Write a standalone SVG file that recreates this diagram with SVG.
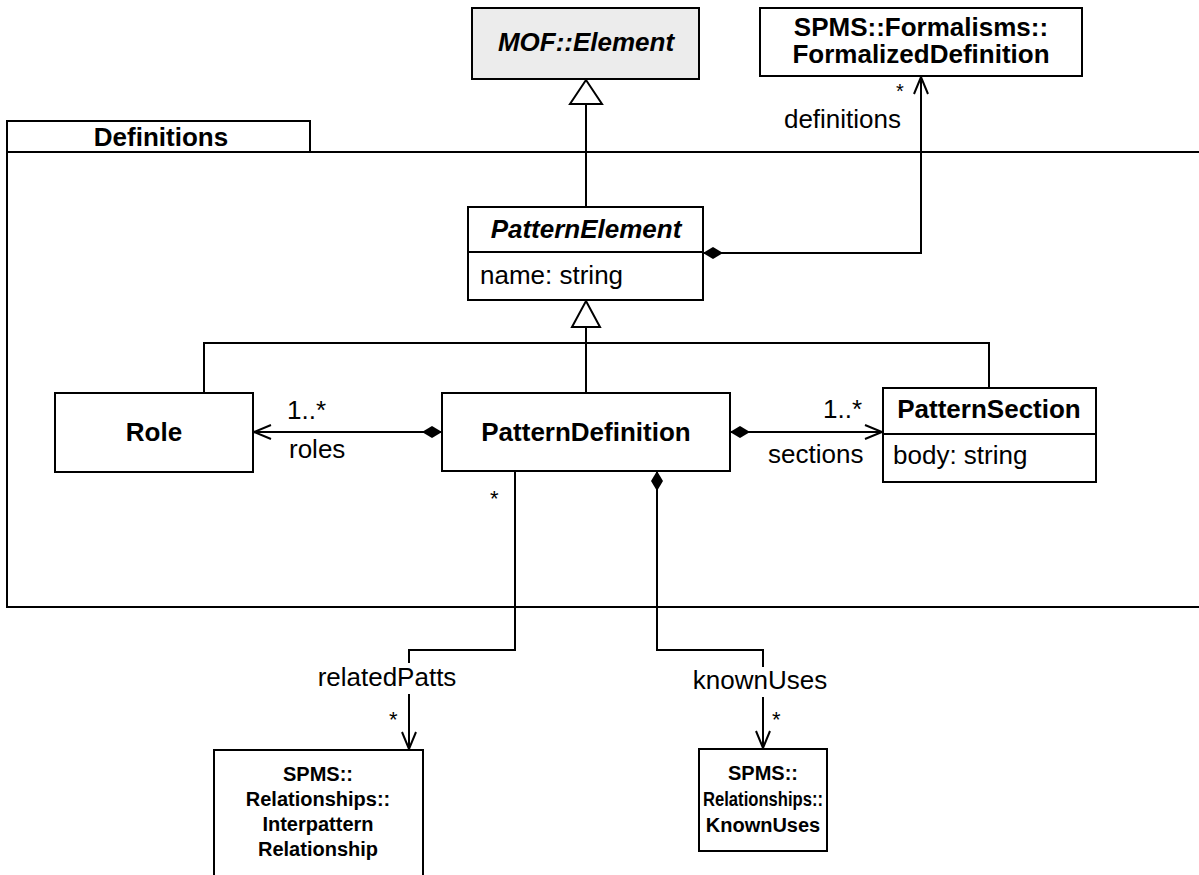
<svg xmlns="http://www.w3.org/2000/svg" width="1199" height="875" viewBox="0 0 1199 875">
  <style>
    .box { fill: #ffffff; stroke: #000000; stroke-width: 2; }
    .abstract { fill: #ececec; stroke: #000000; stroke-width: 2; }
    .line { fill: none; stroke: #000000; stroke-width: 2; }
    .t { font-family: "Liberation Sans", Arial, Helvetica, sans-serif; font-size: 26px; fill: #000000; }
    .b { font-weight: bold; }
    .i { font-style: italic; }
    .c { text-anchor: middle; }
    .e { text-anchor: end; }
    .s { font-size: 20px; }
    .m { font-size: 22px; }
  </style>
  <defs>
    <marker id="open" viewBox="0 0 20 20" refX="18" refY="10" markerWidth="20" markerHeight="20" markerUnits="userSpaceOnUse" orient="auto">
      <path d="M1,3 L18,10 L1,17" fill="none" stroke="#000000" stroke-width="2"/>
    </marker>
    <marker id="diamond" viewBox="0 0 22 14" refX="1" refY="7" markerWidth="22" markerHeight="14" markerUnits="userSpaceOnUse" orient="auto">
      <path d="M1,7 L11,1 L21,7 L11,13 Z" fill="#000000"/>
    </marker>
  </defs>

  <rect width="1199" height="875" fill="#ffffff"/>

  <!-- package Definitions -->
  <g id="pkg-definitions">
    <rect class="box" x="7" y="121" width="303" height="31"/>
    <rect class="box" x="7" y="152" width="1220" height="455"/>
    <text class="t b c" x="161" y="146">Definitions</text>
  </g>

  <g id="node-mof-element">
    <rect class="abstract" x="472" y="8" width="227" height="71"/>
    <text class="t b i c" x="586" y="51">MOF::Element</text>
  </g>

  <g id="node-formalized-definition">
    <rect class="box" x="760" y="8" width="322" height="68"/>
    <text class="t b c" x="921" y="36">SPMS::Formalisms::</text>
    <text class="t b c" x="921" y="63">FormalizedDefinition</text>
  </g>

  <g id="node-pattern-element">
    <rect class="box" x="468" y="207" width="235" height="93"/>
    <line class="line" x1="468" y1="252" x2="703" y2="252"/>
    <text class="t b i c" x="586" y="238">PatternElement</text>
    <text class="t" x="480" y="284">name: string</text>
  </g>

  <g id="node-role">
    <rect class="box" x="55" y="393" width="198" height="79"/>
    <text class="t b c" x="154" y="441">Role</text>
  </g>

  <g id="node-pattern-definition">
    <rect class="box" x="442" y="393" width="288" height="78"/>
    <text class="t b c" x="586" y="441">PatternDefinition</text>
  </g>

  <g id="node-pattern-section">
    <rect class="box" x="883" y="388" width="213" height="94"/>
    <line class="line" x1="883" y1="434" x2="1096" y2="434"/>
    <text class="t b c" x="989" y="418">PatternSection</text>
    <text class="t" x="893" y="464">body: string</text>
  </g>

  <g id="node-interpattern-relationship">
    <rect class="box" x="214" y="750" width="209" height="140"/>
    <text class="t b c s" x="318" y="781">SPMS::</text>
    <text class="t b c s" x="318" y="806">Relationships::</text>
    <text class="t b c s" x="318" y="831">Interpattern</text>
    <text class="t b c s" x="318" y="856">Relationship</text>
  </g>

  <g id="node-known-uses">
    <rect class="box" x="699" y="749" width="128" height="102"/>
    <text class="t b c s" x="763" y="780">SPMS::</text>
    <text class="t b c s" x="763" y="806" textLength="120" lengthAdjust="spacingAndGlyphs">Relationships::</text>
    <text class="t b c s" x="763" y="832">KnownUses</text>
  </g>

  <g id="connectors">
    <!-- PatternElement generalizes MOF::Element -->
    <line class="line" x1="586" y1="207" x2="586" y2="104"/>
    <path d="M586,80 L602,104 L570,104 Z" fill="#ffffff" stroke="#000000" stroke-width="2"/>

    <!-- Role, PatternDefinition, PatternSection generalize PatternElement -->
    <path class="line" d="M204,393 V343 H989 V388"/>
    <line class="line" x1="586" y1="327" x2="586" y2="393"/>
    <path d="M586,301 L600,327 L572,327 Z" fill="#ffffff" stroke="#000000" stroke-width="2"/>

    <!-- definitions -->
    <path class="line" d="M703,253 H921 V77" marker-start="url(#diamond)" marker-end="url(#open)"/>
    <text class="t s" x="896" y="98">*</text>
    <text class="t e" x="901" y="128">definitions</text>

    <!-- roles -->
    <path class="line" d="M442,432 H254" marker-start="url(#diamond)" marker-end="url(#open)"/>
    <text class="t" x="287" y="419">1..*</text>
    <text class="t" x="289" y="458">roles</text>

    <!-- sections -->
    <path class="line" d="M730,432 H882" marker-start="url(#diamond)" marker-end="url(#open)"/>
    <text class="t" x="823" y="418">1..*</text>
    <text class="t" x="768" y="463">sections</text>

    <!-- relatedPatts -->
    <path class="line" d="M515,471 V650 H409 V663"/>
    <path class="line" d="M409,694 V749" marker-end="url(#open)"/>
    <text class="t m" x="490" y="506">*</text>
    <text class="t c" x="387" y="686">relatedPatts</text>
    <text class="t m" x="389" y="727">*</text>

    <!-- knownUses -->
    <path class="line" d="M657,471 V650 H763 V667" marker-start="url(#diamond)"/>
    <path class="line" d="M763,697 V748" marker-end="url(#open)"/>
    <text class="t c" x="760" y="689">knownUses</text>
    <text class="t m" x="772" y="727">*</text>
  </g>
</svg>
